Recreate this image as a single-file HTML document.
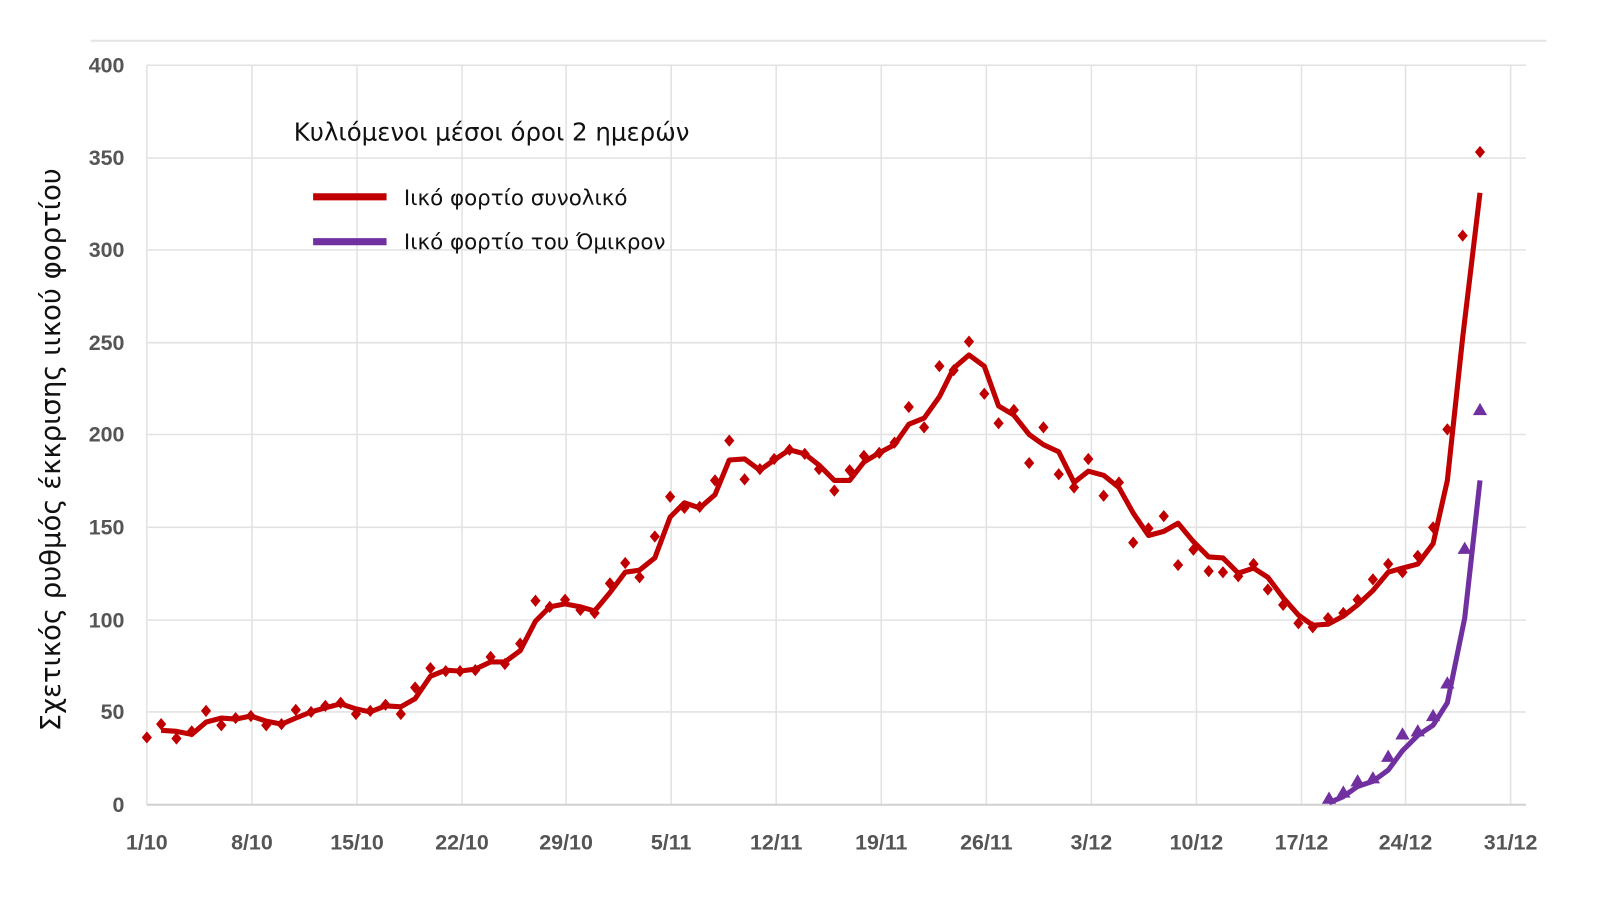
<!DOCTYPE html>
<html><head><meta charset="utf-8"><style>body{margin:0;background:#fff}svg{display:block}</style></head><body>
<svg width="1600" height="900" xmlns="http://www.w3.org/2000/svg" font-family="Liberation Sans, sans-serif">
<rect width="1600" height="900" fill="#fff"/>
<g transform="translate(1,1) scale(1.02)">
<line x1="88" y1="39" x2="1515" y2="39" stroke="#e4e4e4" stroke-width="2"/>
<g stroke="#e2e2e2" stroke-width="1.5">
<line x1="143" y1="63" x2="1495" y2="63"/><line x1="143" y1="154" x2="1495" y2="154"/><line x1="143" y1="244" x2="1495" y2="244"/><line x1="143" y1="335" x2="1495" y2="335"/><line x1="143" y1="425" x2="1495" y2="425"/><line x1="143" y1="516" x2="1495" y2="516"/><line x1="143" y1="607" x2="1495" y2="607"/><line x1="143" y1="697" x2="1495" y2="697"/>
<line x1="143" y1="63" x2="143" y2="788"/><line x1="246" y1="63" x2="246" y2="788"/><line x1="349" y1="63" x2="349" y2="788"/><line x1="452" y1="63" x2="452" y2="788"/><line x1="554" y1="63" x2="554" y2="788"/><line x1="657" y1="63" x2="657" y2="788"/><line x1="760" y1="63" x2="760" y2="788"/><line x1="863" y1="63" x2="863" y2="788"/><line x1="966" y1="63" x2="966" y2="788"/><line x1="1069" y1="63" x2="1069" y2="788"/><line x1="1172" y1="63" x2="1172" y2="788"/><line x1="1275" y1="63" x2="1275" y2="788"/><line x1="1377" y1="63" x2="1377" y2="788"/><line x1="1480" y1="63" x2="1480" y2="788"/>
</g>
<line x1="143" y1="788" x2="1495" y2="788" stroke="#d0d0d0" stroke-width="2"/>
<g fill="#555" font-size="21" font-weight="bold" text-anchor="end">
<text x="121" y="70">400</text><text x="121" y="161">350</text><text x="121" y="251">300</text><text x="121" y="342">250</text><text x="121" y="432">200</text><text x="121" y="523">150</text><text x="121" y="614">100</text><text x="121" y="704">50</text><text x="121" y="795">0</text>
</g>
<g fill="#555" font-size="21" font-weight="bold" text-anchor="middle">
<text x="143" y="832">1/10</text><text x="246" y="832">8/10</text><text x="349" y="832">15/10</text><text x="452" y="832">22/10</text><text x="554" y="832">29/10</text><text x="657" y="832">5/11</text><text x="760" y="832">12/11</text><text x="863" y="832">19/11</text><text x="966" y="832">26/11</text><text x="1069" y="832">3/12</text><text x="1172" y="832">10/12</text><text x="1275" y="832">17/12</text><text x="1377" y="832">24/12</text><text x="1480" y="832">31/12</text>
</g>
<text transform="translate(58,440) rotate(-90)" text-anchor="middle" font-size="27" fill="#111" font-family="DejaVu Sans, sans-serif">Σχετικός ρυθμός έκκρισης ιικού φορτίου</text>
<text x="287" y="137" font-size="24" fill="#111" font-family="DejaVu Sans, sans-serif">Κυλιόμενοι μέσοι όροι 2 ημερών</text>
<line x1="306" y1="192" x2="378" y2="192" stroke="#c00000" stroke-width="7"/>
<text x="395" y="200" font-size="21" fill="#111" font-family="DejaVu Sans, sans-serif">Ιικό φορτίο συνολικό</text>
<line x1="306" y1="236" x2="378" y2="236" stroke="#7030a0" stroke-width="7"/>
<text x="395" y="243" font-size="21" fill="#111" font-family="DejaVu Sans, sans-serif">Ιικό φορτίο του Όμικρον</text>
<polyline fill="none" stroke="#c00000" stroke-width="5" stroke-linejoin="round" points="157,715 172,716 187,719 201,707 216,703 230,704 245,701 260,706 275,709 289,703 304,697 318,693 333,689 348,694 362,697 377,691 392,692 406,684 421,662 436,656 450,657 465,655 480,648 494,648 509,637 524,608 538,594 553,591 568,594 582,598 597,580 612,560 626,558 641,546 656,506 670,492 685,497 700,484 714,450 729,449 744,460 758,450 773,440 788,444 802,455 817,470 832,470 846,452 861,443 876,435 890,415 905,409 920,388 934,360 949,347 964,358 978,397 993,406 1008,425 1022,435 1037,442 1052,472 1066,461 1081,465 1096,477 1110,502 1125,524 1140,520 1154,512 1169,530 1184,545 1198,546 1213,561 1228,556 1242,565 1257,585 1272,602 1286,612 1301,611 1316,603 1330,592 1345,578 1360,560 1374,556 1389,552 1404,532 1418,470 1433,330 1450,188"/>
<polyline fill="none" stroke="#7030a0" stroke-width="5" stroke-linejoin="round" points="1302,786 1316,780 1330,770 1345,765 1360,754 1374,735 1389,720 1404,710 1418,688 1435,605 1450,470"/>
<g fill="#7030a0">
<path d="M1302,775 l-7,12 h14z M1316,769 l-7,12 h14z M1330,758 l-7,12 h14z M1345,755 l-7,12 h14z M1360,734 l-7,12 h14z M1374,712 l-7,12 h14z M1389,709 l-7,12 h14z M1404,694 l-7,12 h14z M1418,662 l-7,12 h14z M1435,530 l-7,12 h14z M1450,394 l-7,12 h14z"/>
</g>
<g fill="#c00000">
<path d="M143,722 m0,-6 l5,6 l-5,6 l-5,-6z M157,709 m0,-6 l5,6 l-5,6 l-5,-6z M172,723 m0,-6 l5,6 l-5,6 l-5,-6z M187,716 m0,-6 l5,6 l-5,6 l-5,-6z M201,696 m0,-6 l5,6 l-5,6 l-5,-6z M216,710 m0,-6 l5,6 l-5,6 l-5,-6z M230,703 m0,-6 l5,6 l-5,6 l-5,-6z M245,701 m0,-6 l5,6 l-5,6 l-5,-6z M260,710 m0,-6 l5,6 l-5,6 l-5,-6z M275,709 m0,-6 l5,6 l-5,6 l-5,-6z M289,695 m0,-6 l5,6 l-5,6 l-5,-6z M304,697 m0,-6 l5,6 l-5,6 l-5,-6z M318,691 m0,-6 l5,6 l-5,6 l-5,-6z M333,688 m0,-6 l5,6 l-5,6 l-5,-6z M348,699 m0,-6 l5,6 l-5,6 l-5,-6z M362,696 m0,-6 l5,6 l-5,6 l-5,-6z M377,690 m0,-6 l5,6 l-5,6 l-5,-6z M392,699 m0,-6 l5,6 l-5,6 l-5,-6z M406,673 m0,-6 l5,6 l-5,6 l-5,-6z M421,654 m0,-6 l5,6 l-5,6 l-5,-6z M436,657 m0,-6 l5,6 l-5,6 l-5,-6z M450,657 m0,-6 l5,6 l-5,6 l-5,-6z M465,656 m0,-6 l5,6 l-5,6 l-5,-6z M480,643 m0,-6 l5,6 l-5,6 l-5,-6z M494,650 m0,-6 l5,6 l-5,6 l-5,-6z M509,630 m0,-6 l5,6 l-5,6 l-5,-6z M524,588 m0,-6 l5,6 l-5,6 l-5,-6z M538,594 m0,-6 l5,6 l-5,6 l-5,-6z M553,587 m0,-6 l5,6 l-5,6 l-5,-6z M568,597 m0,-6 l5,6 l-5,6 l-5,-6z M582,600 m0,-6 l5,6 l-5,6 l-5,-6z M597,571 m0,-6 l5,6 l-5,6 l-5,-6z M612,551 m0,-6 l5,6 l-5,6 l-5,-6z M626,565 m0,-6 l5,6 l-5,6 l-5,-6z M641,525 m0,-6 l5,6 l-5,6 l-5,-6z M656,486 m0,-6 l5,6 l-5,6 l-5,-6z M670,497 m0,-6 l5,6 l-5,6 l-5,-6z M685,496 m0,-6 l5,6 l-5,6 l-5,-6z M700,470 m0,-6 l5,6 l-5,6 l-5,-6z M714,431 m0,-6 l5,6 l-5,6 l-5,-6z M729,469 m0,-6 l5,6 l-5,6 l-5,-6z M744,459 m0,-6 l5,6 l-5,6 l-5,-6z M758,449 m0,-6 l5,6 l-5,6 l-5,-6z M773,440 m0,-6 l5,6 l-5,6 l-5,-6z M788,444 m0,-6 l5,6 l-5,6 l-5,-6z M802,459 m0,-6 l5,6 l-5,6 l-5,-6z M817,480 m0,-6 l5,6 l-5,6 l-5,-6z M832,460 m0,-6 l5,6 l-5,6 l-5,-6z M846,446 m0,-6 l5,6 l-5,6 l-5,-6z M861,443 m0,-6 l5,6 l-5,6 l-5,-6z M876,433 m0,-6 l5,6 l-5,6 l-5,-6z M890,398 m0,-6 l5,6 l-5,6 l-5,-6z M905,418 m0,-6 l5,6 l-5,6 l-5,-6z M920,358 m0,-6 l5,6 l-5,6 l-5,-6z M934,362 m0,-6 l5,6 l-5,6 l-5,-6z M949,334 m0,-6 l5,6 l-5,6 l-5,-6z M964,385 m0,-6 l5,6 l-5,6 l-5,-6z M978,414 m0,-6 l5,6 l-5,6 l-5,-6z M993,401 m0,-6 l5,6 l-5,6 l-5,-6z M1008,453 m0,-6 l5,6 l-5,6 l-5,-6z M1022,418 m0,-6 l5,6 l-5,6 l-5,-6z M1037,464 m0,-6 l5,6 l-5,6 l-5,-6z M1052,477 m0,-6 l5,6 l-5,6 l-5,-6z M1066,449 m0,-6 l5,6 l-5,6 l-5,-6z M1081,485 m0,-6 l5,6 l-5,6 l-5,-6z M1096,472 m0,-6 l5,6 l-5,6 l-5,-6z M1110,531 m0,-6 l5,6 l-5,6 l-5,-6z M1125,517 m0,-6 l5,6 l-5,6 l-5,-6z M1140,505 m0,-6 l5,6 l-5,6 l-5,-6z M1154,553 m0,-6 l5,6 l-5,6 l-5,-6z M1169,538 m0,-6 l5,6 l-5,6 l-5,-6z M1184,559 m0,-6 l5,6 l-5,6 l-5,-6z M1198,560 m0,-6 l5,6 l-5,6 l-5,-6z M1213,564 m0,-6 l5,6 l-5,6 l-5,-6z M1228,552 m0,-6 l5,6 l-5,6 l-5,-6z M1242,577 m0,-6 l5,6 l-5,6 l-5,-6z M1257,592 m0,-6 l5,6 l-5,6 l-5,-6z M1272,610 m0,-6 l5,6 l-5,6 l-5,-6z M1286,614 m0,-6 l5,6 l-5,6 l-5,-6z M1301,605 m0,-6 l5,6 l-5,6 l-5,-6z M1316,600 m0,-6 l5,6 l-5,6 l-5,-6z M1330,587 m0,-6 l5,6 l-5,6 l-5,-6z M1345,567 m0,-6 l5,6 l-5,6 l-5,-6z M1360,552 m0,-6 l5,6 l-5,6 l-5,-6z M1374,560 m0,-6 l5,6 l-5,6 l-5,-6z M1389,544 m0,-6 l5,6 l-5,6 l-5,-6z M1404,516 m0,-6 l5,6 l-5,6 l-5,-6z M1418,420 m0,-6 l5,6 l-5,6 l-5,-6z M1433,230 m0,-6 l5,6 l-5,6 l-5,-6z M1450,148 m0,-6 l5,6 l-5,6 l-5,-6z"/>
</g>
</g>
</svg>
</body></html>
